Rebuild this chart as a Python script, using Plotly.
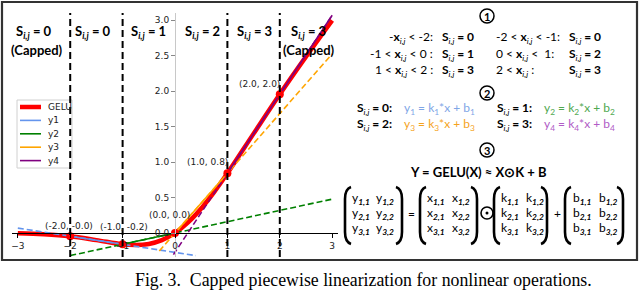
import plotly.graph_objects as go

W, H = 640, 290

# ---------------- data ----------------
gelu_x = [-3.0, -2.5, -2.0, -1.5, -1.0, -0.75, -0.5, -0.25, 0.0, 0.25, 0.5, 0.75, 1.0, 1.5, 2.0, 2.5, 3.0]
gelu_y = [-0.004, -0.016, -0.045, -0.100, -0.159, -0.170, -0.154, -0.100, 0.0, 0.150, 0.346, 0.580, 0.841, 1.400, 1.955, 2.485, 2.996]

line_names = ["y1", "y2", "y3", "y4"]
line_k = [-0.114, 0.159, 0.841, 1.113]
line_b = [-0.273, 0.0, 0.0, -0.272]
solid_from = [-2.0, -1.0, 0.0, 1.0]
solid_to = [-1.0, 0.0, 1.0, 3.0]
dash_from = [-3.0, -2.0, -0.3, -0.03]
dash_to = [0.4, 3.0, 3.0, 3.0]
line_colors = ["#6495ED", "#008000", "#FFA500", "#800080"]

bp_x = [-2.0, -1.0, 0.0, 1.0, 2.0]
bp_y = [-0.045, -0.159, 0.0, 0.841, 1.955]
bp_labels = ["(-2.0, -0.0)", "(-1.0, -0.2)", "(0.0, 0.0)", "(1.0, 0.8)", "(2.0, 2.0)"]

boundaries = [-2, -1, 1, 2]
x_ticks = [-3, -2, -1, 0, 1, 2, 3]
y_ticks = [0.0, 0.5, 1.0, 1.5, 2.0, 2.5, 3.0]

region_labels = ["0", "0", "1", "2", "3", "3"]
region_capped = [True, False, False, False, False, True]


def PX(x):
    return x / W


def PY(y):
    return 1 - y / H


fig = go.Figure()

fig.add_trace(go.Scatter(x=gelu_x, y=gelu_y, mode="lines", name="GELU", showlegend=False,
                         line=dict(color="#ff0000", width=4.5, shape="spline")))
for i, nm in enumerate(line_names):
    k, b = line_k[i], line_b[i]
    xs = [dash_from[i], dash_to[i]]
    fig.add_trace(go.Scatter(x=xs, y=[k * v + b for v in xs], mode="lines",
                             line=dict(color=line_colors[i], width=1.6, dash="6px,3px"),
                             showlegend=False, hoverinfo="skip"))
for i, nm in enumerate(line_names):
    k, b = line_k[i], line_b[i]
    xs = [solid_from[i], solid_to[i]]
    fig.add_trace(go.Scatter(x=xs, y=[k * v + b for v in xs], mode="lines", name=nm, showlegend=False,
                             line=dict(color=line_colors[i], width=1.6)))
fig.add_trace(go.Scatter(x=bp_x, y=bp_y, mode="markers", showlegend=False,
                         marker=dict(color="#ff0000", size=8)))

# point labels
lab_shift = [(-1.5, 10), (1, 17), (-6, 18), (-20, 11), (-20, 10)]
for i, t in enumerate(bp_labels):
    fig.add_annotation(x=bp_x[i], y=bp_y[i], xref="x", yref="y", text=t, showarrow=False,
                       xanchor="center", yanchor="middle",
                       xshift=lab_shift[i][0], yshift=lab_shift[i][1],
                       font=dict(family="DejaVu Sans", size=9, color="#222"))

# legend (compact, matplotlib-like)
fig.add_shape(type="rect", xref="paper", yref="paper", x0=PX(17), x1=PX(72), y0=PY(168), y1=PY(100),
              fillcolor="rgba(255,255,255,0.8)", line=dict(color="#d0d0d0", width=1))
leg_names = ["GELU"] + line_names
leg_colors = ["#ff0000"] + line_colors
leg_widths = [4.5, 1.6, 1.6, 1.6, 1.6]
for i, nm in enumerate(leg_names):
    yy = 107 + 13.4 * i
    fig.add_shape(type="line", xref="paper", yref="paper", x0=PX(20), x1=PX(41), y0=PY(yy), y1=PY(yy),
                  line=dict(color=leg_colors[i], width=leg_widths[i]))
    fig.add_annotation(x=PX(46), y=PY(yy), xref="paper", yref="paper", text=nm, showarrow=False,
                       xanchor="left", yanchor="middle",
                       font=dict(family="DejaVu Sans", size=9, color="#222"))

# boundaries
for v in boundaries:
    fig.add_shape(type="line", xref="x", yref="y domain", x0=v, x1=v, y0=0, y1=1,
                  line=dict(color="black", width=2, dash="7px,4px"), layer="above")

# region headers
hdr_x = [34, 93, 148, 202, 254, 308]
cap_dx = [3, 0, 0, 0, 0, 1]
for i, s in enumerate(region_labels):
    fig.add_annotation(x=PX(hdr_x[i]), y=PY(32), xref="paper", yref="paper",
                       xanchor="center", yanchor="middle",
                       text="<b>S<sub><i>i,j</i></sub> = %s</b>" % s, showarrow=False,
                       font=dict(family="Lato", size=13, color="black"))
    if region_capped[i]:
        fig.add_annotation(x=PX(hdr_x[i] + cap_dx[i]), y=PY(50), xref="paper", yref="paper",
                           xanchor="center", yanchor="middle",
                           text="<b>(Capped)</b>", showarrow=False,
                           font=dict(family="Lato", size=13, color="black"))


def txt(x, y, t, anchor="left", color="black", size=12):
    fig.add_annotation(x=PX(x), y=PY(y), xref="paper", yref="paper", text=t, showarrow=False,
                       xanchor=anchor, yanchor="middle",
                       font=dict(family="Lato", size=size, color=color))


XIJ = "<b>x</b><sub><i>i,j</i></sub>"


def SEQ(n):
    return "<b>S</b><sub><i>i,j</i></sub><b> = %s</b>" % n


# section 1
rows1 = [
    ("-%s < -2:" % XIJ, SEQ("0"), "-2 < %s < -1:" % XIJ, SEQ("0")),
    ("-1 < %s < 0 :" % XIJ, SEQ("1"), "0 < %s <  1:" % XIJ, SEQ("2")),
    ("1 < %s < 2 :" % XIJ, SEQ("3"), "2 < %s :" % XIJ, SEQ("3")),
]
for r, yy in zip(rows1, [37, 54, 71]):
    txt(435, yy, r[0], anchor="right")
    txt(440, yy, r[1])
    txt(494, yy, r[2])
    txt(567, yy, r[3])

# section 2
eq_col = ["#7fa6e6", "#4fa84f", "#f5a31c", "#b05cc6"]
eqs = ["y<sub>%d</sub> = k<sub>%d</sub>*x + b<sub>%d</sub>" % (n, n, n) for n in (1, 2, 3, 4)]
txt(355, 108, SEQ("0:"))
txt(402, 108, eqs[0], color=eq_col[0])
txt(495, 108, SEQ("1:"))
txt(542, 108, eqs[1], color=eq_col[1])
txt(355, 125, SEQ("2:"))
txt(402, 125, eqs[2], color=eq_col[2])
txt(495, 125, SEQ("3:"))
txt(542, 125, eqs[3], color=eq_col[3])

# circled numbers
for num, cy in zip(["1", "2", "3"], [16, 93, 150]):
    fig.add_shape(type="circle", xref="paper", yref="paper",
                  x0=PX(487 - 7), x1=PX(487 + 7), y0=PY(cy + 7), y1=PY(cy - 7),
                  line=dict(color="black", width=1.5))
    txt(487, cy + 0.5, "<b>%s</b>" % num, anchor="center", size=11)

# section 3
txt(478, 172, "<b>Y = GELU(X) ≈ X⊙K + B</b>", anchor="center", size=13)

mats = [("y", 345, 402, 361, 385), ("x", 420, 477, 436, 461), ("k", 494, 547, 510, 535), ("b", 565, 623, 582, 608)]
rows_y = [198, 213, 228]
top, bot = 187, 244

for letter, xl, xr, c1, c2 in mats:
    lp = "M %f,%f Q %f,%f %f,%f L %f,%f Q %f,%f %f,%f" % (
        PX(xl + 6), PY(top), PX(xl), PY(top + 2), PX(xl), PY(top + 12),
        PX(xl), PY(bot - 12), PX(xl), PY(bot - 2), PX(xl + 6), PY(bot))
    rp = "M %f,%f Q %f,%f %f,%f L %f,%f Q %f,%f %f,%f" % (
        PX(xr - 6), PY(top), PX(xr), PY(top + 2), PX(xr), PY(top + 12),
        PX(xr), PY(bot - 12), PX(xr), PY(bot - 2), PX(xr - 6), PY(bot))
    for p in (lp, rp):
        fig.add_shape(type="path", xref="paper", yref="paper", path=p,
                      line=dict(color="black", width=2.6))
    for ri, yy in enumerate(rows_y):
        for ci, cx in enumerate((c1, c2)):
            txt(cx, yy, "%s<sub><b><i>%d,%d</i></b></sub>" % (letter, ri + 1, ci + 1), anchor="center", size=12)

txt(411, 213, "=", anchor="center", size=12)
txt(557, 213, "+", anchor="center", size=12)
fig.add_shape(type="circle", xref="paper", yref="paper",
              x0=PX(481), x1=PX(493), y0=PY(219), y1=PY(207), line=dict(color="black", width=1.6))
fig.add_shape(type="circle", xref="paper", yref="paper", fillcolor="black",
              x0=PX(485.5), x1=PX(488.5), y0=PY(214.5), y1=PY(211.5), line=dict(color="black", width=0))

# frame
fig.add_shape(type="rect", xref="paper", yref="paper", x0=PX(2), x1=PX(637), y0=PY(260), y1=PY(2),
              line=dict(color="#333", width=2.2))

# caption
fig.add_annotation(x=PX(133), y=PY(292), xref="paper", yref="paper", showarrow=False,
                   xanchor="left", yanchor="bottom",
                   text="Fig. 3.  Capped piecewise linearization for nonlinear operations.",
                   font=dict(family="Liberation Serif", size=17.8, color="black"))

fig.update_layout(
    width=W, height=H, margin=dict(l=0, r=0, t=0, b=0),
    paper_bgcolor="white", plot_bgcolor="rgba(0,0,0,0)",
    xaxis=dict(domain=[PX(12), PX(338)], range=[-3.111, 3.111], anchor="free", position=PY(233),
               showline=True, linecolor="black", linewidth=1.3, ticks="outside", ticklen=4,
               tickcolor="black", tickvals=x_ticks, ticktext=[("\u2212%d" % -v) if v < 0 else str(v) for v in x_ticks],
               showgrid=False, zeroline=False, tickfont=dict(family="DejaVu Sans", size=9, color="#222")),
    yaxis=dict(domain=[PY(257), PY(13)], range=[-0.338, 3.099], anchor="free", position=PX(175),
               showline=True, linecolor="#c8c8c8", linewidth=1, ticks="outside", ticklen=4,
               tickcolor="#888", tickvals=y_ticks, tickformat=".1f",
               showgrid=False, zeroline=False, tickfont=dict(family="DejaVu Sans", size=9, color="#222")),
    showlegend=False,
)

fig.write_html("out.html", config={"displayModeBar": False},
               post_script="document.body.style.margin='0px';document.body.style.overflow='hidden';")
